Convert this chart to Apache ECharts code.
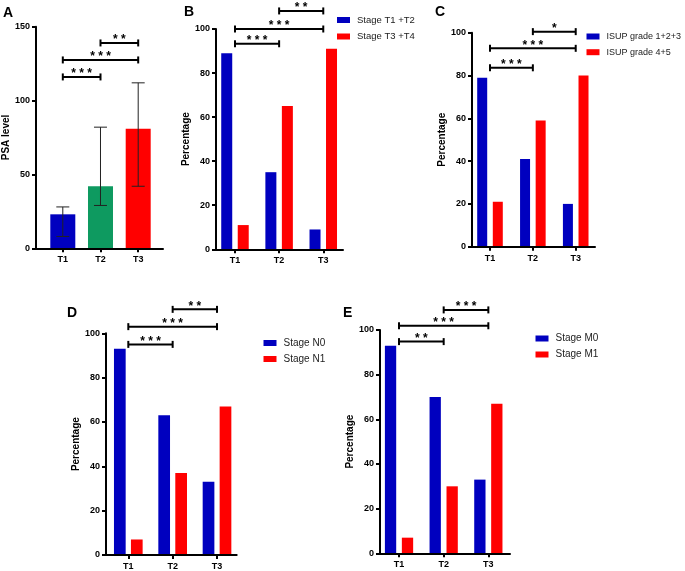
<!DOCTYPE html>
<html>
<head>
<meta charset="utf-8">
<script src="https://cdn.jsdelivr.net/npm/echarts@6/dist/echarts.min.js"></script>
<style>
html,body{margin:0;padding:0;background:#fff;}
#chart{width:685px;height:571px;}
</style>
</head>
<body>
<div id="chart"></div>
<script>
// ---------- data ----------
const categories = ['T1', 'T2', 'T3'];

// Panel A: PSA level (bar + error bar)
const psaMean = [23, 42, 81];
const psaLow = [8, 29, 42];
const psaHigh = [28, 82, 112];

// Panel B
const stageT12 = [89, 35, 9];
const stageT34 = [11, 65, 91];
// Panel C
const isup123 = [79, 41, 20];
const isup45 = [21, 59, 80];
// Panel D
const stageN0 = [93, 63, 33];
const stageN1 = [7, 37, 67];
// Panel E
const stageM0 = [93, 70, 33];
const stageM1 = [7, 30, 67];

// significance brackets: [from category, to category, height, label]
const sigA = [[1, 2, 116, '***'], [1, 3, 127.5, '***'], [2, 3, 139, '**']];
const sigB = [[1, 2, 93.3, '***'], [1, 3, 100, '***'], [2, 3, 108.2, '**']];
const sigC = [[1, 2, 83.6, '***'], [1, 3, 92.7, '***'], [2, 3, 100.5, '*']];
const sigD = [[1, 2, 95, '***'], [1, 3, 103, '***'], [2, 3, 110.8, '**']];
const sigE = [[1, 2, 94.8, '**'], [1, 3, 101.9, '***'], [2, 3, 109, '***']];

const yTicksPSA = [0, 50, 100, 150];
const yTicksPct = [0, 20, 40, 60, 80, 100];

// ---------- styling ----------
const FONT = "'Liberation Sans', Arial, Helvetica, sans-serif";
const BLUE = '#0000BF';
const RED = '#FF0000';
const GREEN = '#0E9A60';

const chart = echarts.init(document.getElementById('chart'), null, {renderer: 'canvas'});

const panels = [
  {grid: {left: 35, top: 26.7, width: 128, height: 221.6}, xmin: 0.289, xmax: 3.658, yTicks: yTicksPSA, yName: 'PSA level', nameGap: 25},
  {grid: {left: 216, top: 29, width: 127, height: 220.3}, xmin: 0.570, xmax: 3.447, yTicks: yTicksPct, yName: 'Percentage', nameGap: 25},
  {grid: {left: 472, top: 32.7, width: 123, height: 214}, xmin: 0.580, xmax: 3.450, yTicks: yTicksPct, yName: 'Percentage', nameGap: 25},
  {grid: {left: 106, top: 333.3, width: 130.7, height: 221.7}, xmin: 0.497, xmax: 3.444, yTicks: yTicksPct, yName: 'Percentage', nameGap: 23},
  {grid: {left: 380, top: 330, width: 130, height: 223.3}, xmin: 0.574, xmax: 3.485, yTicks: yTicksPct, yName: 'Percentage', nameGap: 25}
];

const grids = [], xAxes = [], yAxes = [];
panels.forEach((p, i) => {
  grids.push(Object.assign({containLabel: false}, p.grid));
  xAxes.push({
    type: 'value', gridIndex: i, min: p.xmin, max: p.xmax, z: 3,
    axisLine: {show: true, lineStyle: {color: '#000', width: 2}},
    axisTick: {show: true, length: 4, lineStyle: {color: '#000', width: 2}, customValues: [1, 2, 3]},
    axisLabel: {customValues: [1, 2, 3], formatter: v => categories[Math.round(v) - 1] || '',
      fontFamily: FONT, fontSize: 9, fontWeight: 'bold', color: '#000', margin: 7},
    splitLine: {show: false}
  });
  const yMax = p.yTicks[p.yTicks.length - 1];
  yAxes.push({
    type: 'value', gridIndex: i, min: 0, max: yMax, interval: p.yTicks[1] - p.yTicks[0], z: 3,
    name: p.yName, nameLocation: 'middle', nameGap: p.nameGap,
    nameTextStyle: {fontFamily: FONT, fontSize: 10, fontWeight: 'bold', color: '#000'},
    axisLine: {show: true, lineStyle: {color: '#000', width: 2}},
    axisTick: {show: true, length: 4, lineStyle: {color: '#000', width: 2}},
    axisLabel: {fontFamily: FONT, fontSize: 9, fontWeight: 'bold', color: '#000', margin: 6},
    splitLine: {show: false}
  });
});

const toPairs = arr => arr.map((v, i) => [i + 1, v]);

function barSeries(name, idx, values, color, width, gap) {
  return {
    type: 'bar', name: name, xAxisIndex: idx, yAxisIndex: idx,
    data: toPairs(values), barWidth: width, barGap: gap,
    itemStyle: {color: color}, silent: true, animation: false
  };
}

function bracketSeries(idx, list) {
  return {
    type: 'custom', xAxisIndex: idx, yAxisIndex: idx, clip: false, silent: true, animation: false, z: 5,
    data: list.map(b => [b[0], b[1], b[2]]),
    encode: {x: [0, 1], y: 2},
    renderItem: (params, api) => {
      const p1 = api.coord([api.value(0), api.value(2)]);
      const p2 = api.coord([api.value(1), api.value(2)]);
      const lab = list[params.dataIndex][3].split('').join(' ');
      const ls = {stroke: '#000', lineWidth: 2};
      return {
        type: 'group',
        children: [
          {type: 'line', shape: {x1: p1[0], y1: p1[1], x2: p2[0], y2: p2[1]}, style: ls},
          {type: 'line', shape: {x1: p1[0], y1: p1[1] - 3.5, x2: p1[0], y2: p1[1] + 3.5}, style: ls},
          {type: 'line', shape: {x1: p2[0], y1: p2[1] - 3.5, x2: p2[0], y2: p2[1] + 3.5}, style: ls},
          {type: 'text', style: {text: lab, x: (p1[0] + p2[0]) / 2, y: p1[1] + 3,
            align: 'center', verticalAlign: 'bottom', font: 'bold 12px ' + FONT, fill: '#000'}}
        ]
      };
    }
  };
}

function errorSeries(idx, low, high) {
  return {
    type: 'custom', xAxisIndex: idx, yAxisIndex: idx, clip: false, silent: true, animation: false, z: 4,
    data: low.map((l, i) => [i + 1, l, high[i]]),
    encode: {x: 0, y: [1, 2]},
    renderItem: (params, api) => {
      const lo = api.coord([api.value(0), api.value(1)]);
      const hi = api.coord([api.value(0), api.value(2)]);
      const ls = {stroke: '#222', lineWidth: 1};
      const hw = 6.5;
      return {
        type: 'group',
        children: [
          {type: 'line', shape: {x1: lo[0], y1: lo[1], x2: hi[0], y2: hi[1]}, style: ls},
          {type: 'line', shape: {x1: lo[0] - hw, y1: lo[1], x2: lo[0] + hw, y2: lo[1]}, style: ls},
          {type: 'line', shape: {x1: hi[0] - hw, y1: hi[1], x2: hi[0] + hw, y2: hi[1]}, style: ls}
        ]
      };
    }
  };
}

const series = [
  {
    type: 'bar', name: 'PSA level', xAxisIndex: 0, yAxisIndex: 0, barWidth: 25, silent: true, animation: false,
    data: psaMean.map((v, i) => ({value: [i + 1, v], itemStyle: {color: [BLUE, GREEN, RED][i]}}))
  },
  errorSeries(0, psaLow, psaHigh),
  bracketSeries(0, sigA),

  barSeries('Stage T1 +T2', 1, stageT12, BLUE, 11, '50%'),
  barSeries('Stage T3 +T4', 1, stageT34, RED, 11, '50%'),
  bracketSeries(1, sigB),

  barSeries('ISUP grade 1+2+3', 2, isup123, BLUE, 10, '56%'),
  barSeries('ISUP grade 4+5', 2, isup45, RED, 10, '56%'),
  bracketSeries(2, sigC),

  barSeries('Stage N0', 3, stageN0, BLUE, 11.7, '45%'),
  barSeries('Stage N1', 3, stageN1, RED, 11.7, '45%'),
  bracketSeries(3, sigD),

  barSeries('Stage M0', 4, stageM0, BLUE, 11.3, '50%'),
  barSeries('Stage M1', 4, stageM1, RED, 11.3, '50%'),
  bracketSeries(4, sigE)
];

function legendAt(names, left, top, fs, gap) {
  return {
    data: names, orient: 'vertical', left: left, top: top, padding: 0,
    itemWidth: 13, itemHeight: 6, itemGap: gap, icon: 'rect', selectedMode: false,
    textStyle: {fontFamily: FONT, fontSize: fs, color: '#222', padding: [0, 0, 0, 2]}
  };
}

const letters = [['A', 3, 6], ['B', 184, 5], ['C', 435, 5], ['D', 67, 306], ['E', 343, 306]];

chart.setOption({
  animation: false,
  backgroundColor: '#fff',
  grid: grids,
  xAxis: xAxes,
  yAxis: yAxes,
  legend: [
    legendAt(['Stage T1 +T2', 'Stage T3 +T4'], 337, 15, 9.5, 6.5),
    legendAt(['ISUP grade 1+2+3', 'ISUP grade 4+5'], 586.5, 32, 9, 6.7),
    legendAt(['Stage N0', 'Stage N1'], 263.5, 338, 10, 6),
    legendAt(['Stage M0', 'Stage M1'], 535.5, 333.5, 10, 6)
  ],
  graphic: letters.map(l => ({
    type: 'text', left: l[1], top: l[2],
    style: {text: l[0], font: 'bold 14px ' + FONT, fill: '#000'}
  })),
  series: series
});
</script>
</body>
</html>
